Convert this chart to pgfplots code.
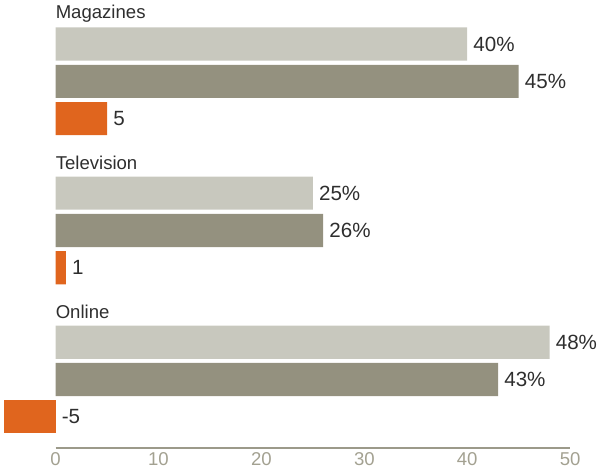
\documentclass[border=0pt]{standalone}
\usepackage{pgfplots}
\pgfplotsset{compat=1.18}
\usepackage{fontspec}
\setmainfont{Liberation Sans}
\definecolor{lightbar}{HTML}{C8C8BE}
\definecolor{darkbar}{HTML}{94917F}
\definecolor{orangebar}{HTML}{E0651E}
\definecolor{ticklab}{HTML}{A3A191}
\definecolor{axisline}{HTML}{9C9A8A}
\definecolor{txt}{HTML}{2E2E2E}
\begin{document}
\begin{tikzpicture}
\begin{axis}[
  scale only axis, width=566bp, height=444.7bp,
  xmin=-5.4, xmax=50, ymin=-1.18, ymax=10.84, y dir=reverse,
  axis line style={draw=none},
  xtick={0,10,...,50}, ytick=\empty, major tick length=0pt,
  xticklabel style={font=\fontsize{18.5}{20}\selectfont, text=ticklab, yshift=-1bp},
  /pgf/number format/assume math mode=true,
  xbar, bar width=0.89, bar shift=0pt,
  clip=false,
  nodes near coords style={font=\fontsize{20.5}{24}\selectfont, text=txt, anchor=west, inner sep=0pt, xshift=6bp},
]
\addplot[fill=lightbar, draw=none, nodes near coords={\pgfmathprintnumber{\pgfplotspointmeta}\%}]
  coordinates {(40,0) (25,4) (48,8)};
\addplot[fill=darkbar, draw=none, nodes near coords={\pgfmathprintnumber{\pgfplotspointmeta}\%}]
  coordinates {(45,1) (26,5) (43,9)};
\addplot[fill=orangebar, draw=none, nodes near coords]
  coordinates {(5,2) (1,6)};
\addplot[fill=orangebar, draw=none, nodes near coords,
  nodes near coords style={anchor=west, xshift=51.1bp}]
  coordinates {(-5,10)};
\draw[axisline, line width=2.5bp] (axis cs:0,10.84) -- (axis cs:50,10.84);
\node[anchor=west, inner sep=0pt, text=txt, font=\fontsize{18.5}{20}\selectfont] at (axis cs:0,-0.82) {Magazines};
\node[anchor=west, inner sep=0pt, text=txt, font=\fontsize{18.5}{20}\selectfont] at (axis cs:0,3.18) {Television};
\node[anchor=west, inner sep=0pt, text=txt, font=\fontsize{18.5}{20}\selectfont] at (axis cs:0,7.18) {Online};
\end{axis}
\end{tikzpicture}
\end{document}
